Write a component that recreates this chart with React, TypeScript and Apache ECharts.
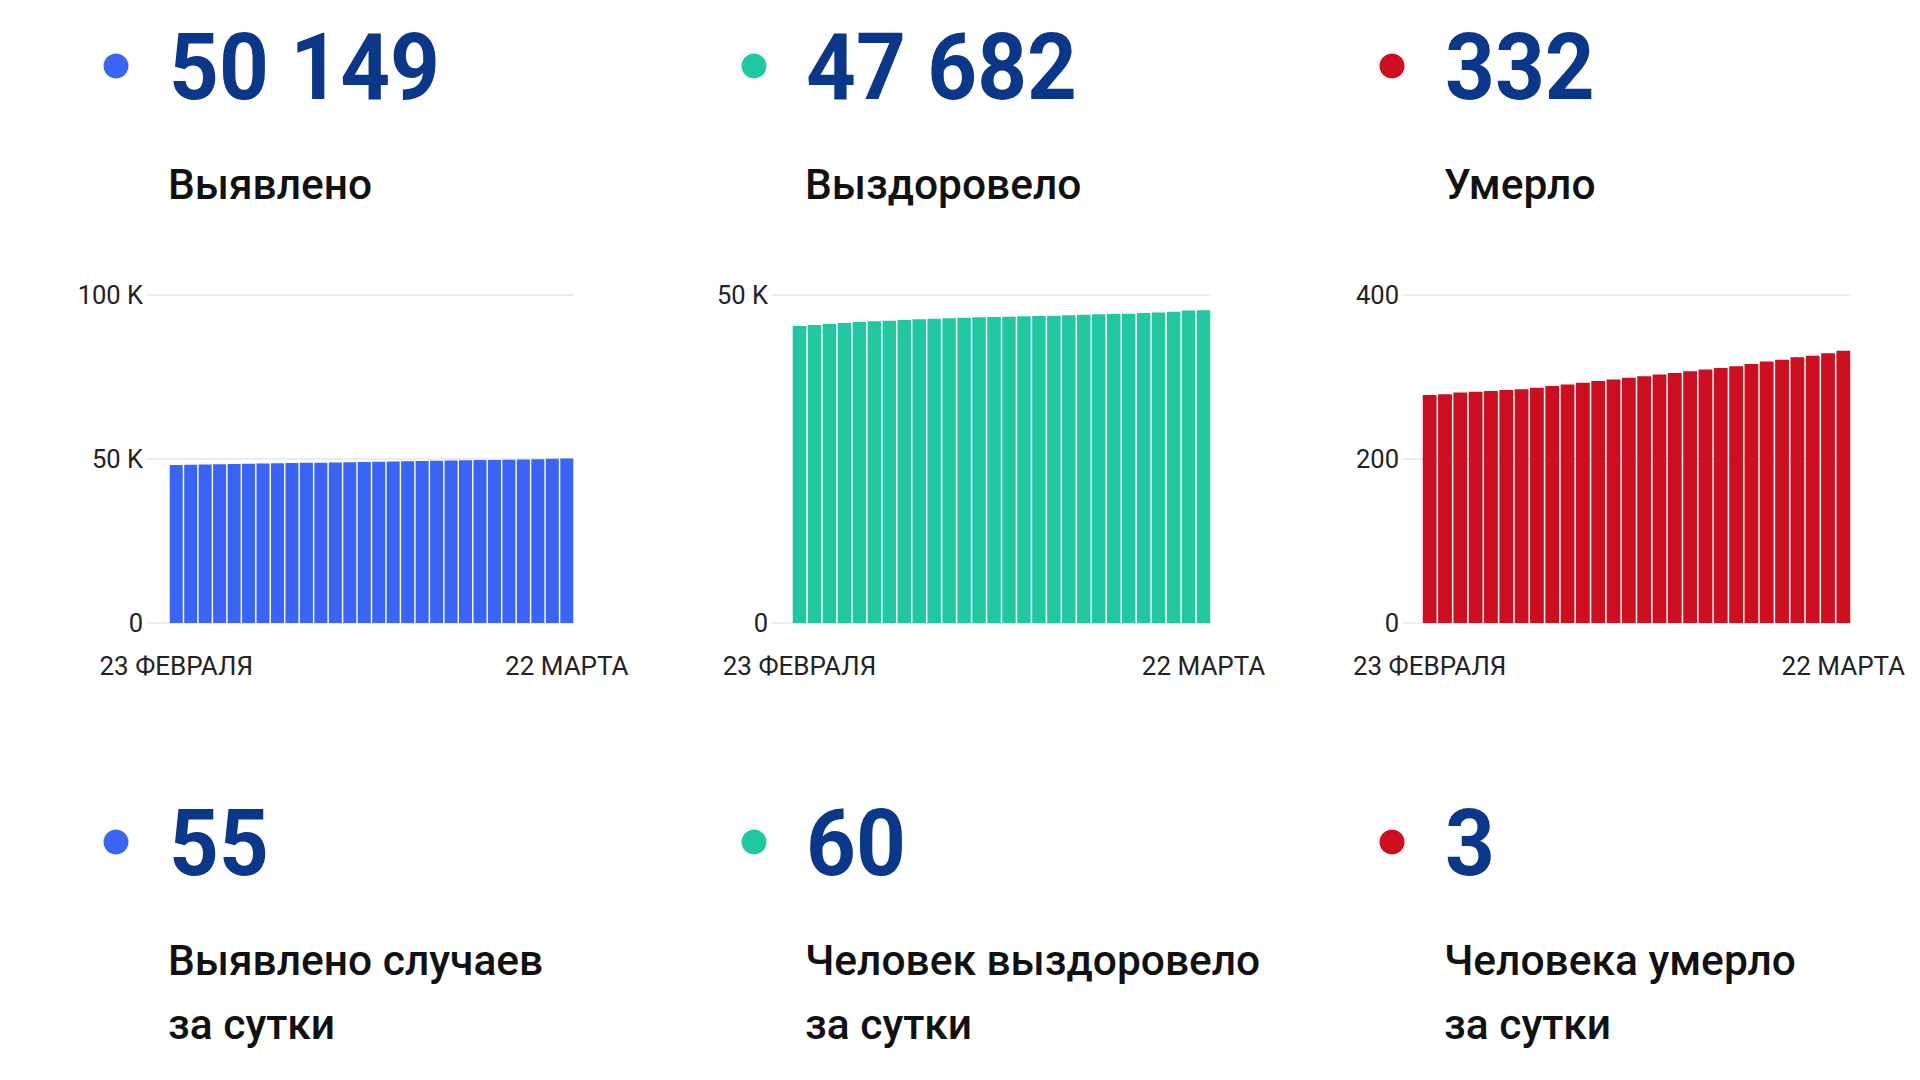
import React, { useEffect, useRef } from 'react';
import * as echarts from 'echarts';

// ---------- data ----------
const days = [
  '23 ФЕВРАЛЯ', '24 ФЕВРАЛЯ', '25 ФЕВРАЛЯ', '26 ФЕВРАЛЯ', '27 ФЕВРАЛЯ', '28 ФЕВРАЛЯ',
  '1 МАРТА', '2 МАРТА', '3 МАРТА', '4 МАРТА', '5 МАРТА', '6 МАРТА', '7 МАРТА', '8 МАРТА',
  '9 МАРТА', '10 МАРТА', '11 МАРТА', '12 МАРТА', '13 МАРТА', '14 МАРТА', '15 МАРТА',
  '16 МАРТА', '17 МАРТА', '18 МАРТА', '19 МАРТА', '20 МАРТА', '21 МАРТА', '22 МАРТА',
];

const detected = [
  48170, 48240, 48320, 48400, 48470, 48540, 48600, 48680, 48760, 48820, 48890, 48960, 49030, 49100,
  49170, 49240, 49310, 49380, 49450, 49520, 49590, 49660, 49730, 49800, 49870, 49950, 50094, 50149,
];
const recovered = [
  45270, 45420, 45570, 45730, 45880, 45980, 46080, 46180, 46290, 46390, 46440, 46540, 46590, 46640,
  46700, 46750, 46800, 46850, 46900, 47000, 47050, 47100, 47160, 47250, 47350, 47450, 47622, 47682,
];
const died = [
  278, 279, 281, 282, 283, 284, 285, 287, 289, 291, 293, 295, 297, 299,
  301, 303, 305, 307, 309, 311, 313, 316, 319, 321, 324, 326, 329, 332,
];

const totals = ['50 149', '47 682', '332'];
const totalLabels = ['Выявлено', 'Выздоровело', 'Умерло'];
const daily = ['55', '60', '3'];
const dailyLine1 = ['Выявлено случаев', 'Человек выздоровело', 'Человека умерло'];
const dailyLine2 = ['за сутки', 'за сутки', 'за сутки'];
const yMax = [100000, 50000, 400];
const yStep = [50000, 50000, 200];
const seriesData = [detected, recovered, died];

// ---------- layout / style ----------
const colors = ['#3a64f5', '#21c7a0', '#cc0e1e'];
const panels = [
  { axisLeft: 147, barLeft: 169, right: 574, dotX: 116, textX: 169 },
  { axisLeft: 772, barLeft: 792, right: 1211, dotX: 754, textX: 806 },
  { axisLeft: 1403, barLeft: 1422, right: 1851, dotX: 1392, textX: 1445 },
];
const GRID_TOP = 295;
const GRID_H = 328;
const NAVY = '#0a378a';
const FONT = 'Roboto';

function fmtY(v: number) {
  if (v === 0) return '0';
  if (v >= 1000) return v / 1000 + ' K';
  return String(v);
}

function txt(
  text: string,
  x: number,
  y: number,
  size: number,
  weight: number | string,
  fill: string,
  scaleX = 1
) {
  return {
    type: 'text',
    x,
    y,
    scaleX,
    silent: true,
    style: {
      text,
      fill,
      fontFamily: FONT,
      fontSize: size,
      fontWeight: weight,
      align: 'left',
      verticalAlign: 'middle',
      textAlign: 'left',
      textVerticalAlign: 'middle',
    },
  };
}

export default function App() {
  const ref = useRef<HTMLDivElement>(null);

  useEffect(() => {
    if (!ref.current) return;
    const chart = echarts.init(ref.current, undefined, { renderer: 'svg' });

    const grid: any[] = [];
    const xAxis: any[] = [];
    const yAxis: any[] = [];
    const series: any[] = [];
    const graphic: any[] = [];

    panels.forEach((p, i) => {
      const gA = i * 2;
      const gB = i * 2 + 1;
      grid.push({ left: p.axisLeft, top: GRID_TOP, width: p.right - p.axisLeft, height: GRID_H });
      grid.push({ left: p.barLeft, top: GRID_TOP, width: p.right - p.barLeft, height: GRID_H });

      xAxis.push({ gridIndex: gA, type: 'value', min: 0, max: 1, show: false });
      yAxis.push({
        gridIndex: gA,
        type: 'value',
        min: 0,
        max: yMax[i],
        interval: yStep[i],
        axisLine: { show: false },
        axisTick: { show: false },
        axisLabel: {
          formatter: fmtY,
          fontFamily: FONT,
          fontSize: 25.5,
          color: '#222222',
          margin: 4,
        },
        splitLine: { lineStyle: { color: '#ececec', width: 2 } },
      });

      xAxis.push({
        gridIndex: gB,
        type: 'category',
        data: days,
        axisLine: { show: false },
        axisTick: { show: false },
        axisLabel: {
          interval: (idx: number) => idx === 0 || idx === days.length - 1,
          fontFamily: FONT,
          fontSize: 26,
          color: '#222222',
          margin: 30,
        },
      });
      yAxis.push({
        gridIndex: gB,
        type: 'value',
        min: 0,
        max: yMax[i],
        interval: yStep[i],
        show: false,
        splitLine: { show: false },
      });

      series.push({
        type: 'bar',
        xAxisIndex: gB,
        yAxisIndex: gB,
        data: seriesData[i],
        barCategoryGap: '10%',
        itemStyle: { color: colors[i] },
      });

      // headline
      graphic.push({
        type: 'circle',
        silent: true,
        shape: { cx: p.dotX, cy: 66, r: 12.5 },
        style: { fill: colors[i] },
      });
      graphic.push(txt(totals[i], p.textX, 68, 92, 700, NAVY, 0.945));
      graphic.push(txt(totalLabels[i], p.textX - 1, 184, 42.5, 500, '#111111'));

      // daily
      graphic.push({
        type: 'circle',
        silent: true,
        shape: { cx: p.dotX, cy: 842, r: 12.5 },
        style: { fill: colors[i] },
      });
      graphic.push(txt(daily[i], p.textX, 844, 92, 700, NAVY, 0.945));
      graphic.push(txt(dailyLine1[i], p.textX - 1, 960, 42.5, 500, '#111111'));
      graphic.push(txt(dailyLine2[i], p.textX - 1, 1024, 42.5, 500, '#111111'));
    });

    chart.setOption({
      animation: false,
      backgroundColor: '#ffffff',
      textStyle: { fontFamily: FONT },
      grid,
      xAxis,
      yAxis,
      series,
      graphic,
    });

    return () => chart.dispose();
  }, []);

  return (
    <div
      ref={ref}
      style={{ position: 'absolute', left: 0, top: 0, width: 1920, height: 1080, background: '#fff' }}
    />
  );
}
